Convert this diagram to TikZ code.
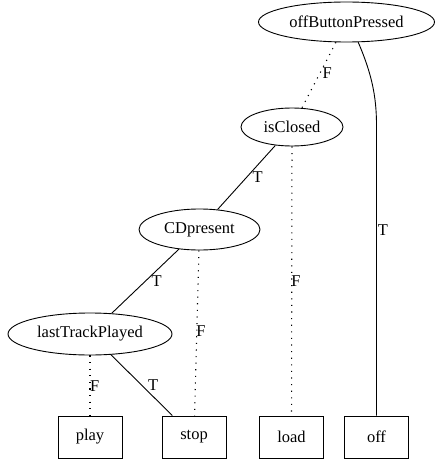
\documentclass[tikz,border=0pt]{standalone}
\usepackage{fontspec}
\setmainfont{Liberation Serif}
\usetikzlibrary{shapes.geometric}
\begin{document}
\begin{tikzpicture}[x=1pt,y=-1pt,
  every node/.style={font=\fontsize{16.5}{18}\selectfont},
  dec/.style={draw, ellipse, line width=0.9pt, inner sep=0pt},
  leaf/.style={draw, rectangle, line width=0.9pt, minimum width=64pt, minimum height=42pt, inner sep=0pt},
  tedge/.style={draw, line width=0.9pt},
  fedge/.style={draw, line width=1.1pt, dash pattern=on 1.1pt off 5.5pt},
  lbl/.style={inner sep=0pt, anchor=west}]
\useasboundingbox (0,0) rectangle (435,465);
\node[dec, minimum width=176pt, minimum height=40pt] (obp) at (346.5,22) {offButtonPressed};
\node[dec, minimum width=102pt, minimum height=38pt] (isc) at (292,127) {isClosed};
\node[dec, minimum width=121pt, minimum height=41pt] (cdp) at (199.5,229.5) {CDpresent};
\node[dec, minimum width=164pt, minimum height=42pt] (ltp) at (90,334) {lastTrackPlayed};
\node[leaf] (play) at (90,437) {play};
\node[leaf] (stop) at (194,437) {stop};
\node[leaf] (load) at (291.5,437) {load};
\node[leaf] (off) at (376.5,437) {off};
\draw[fedge] (obp) -- node[lbl, pos=0.47, xshift=2pt] {F} (isc);
\draw[tedge] (obp.300) .. controls (371,72) and (376.5,95) .. (376.5,125)
  -- node[lbl, pos=0.36, xshift=1pt] {T} (off.north);
\draw[tedge] (isc) -- node[lbl, pos=0.49, xshift=5pt] {T} (cdp);
\draw[fedge] (isc) -- node[lbl, pos=0.5, xshift=-1pt] {F} (load);
\draw[tedge] (cdp) -- node[lbl, pos=0.5, xshift=6pt] {T} (ltp);
\draw[fedge] (cdp) -- node[lbl, pos=0.49, xshift=-1pt] {F} (stop);
\draw[fedge] (ltp) -- node[lbl, pos=0.51, xshift=-0.5pt] {F} (play);
\draw[tedge] (ltp) -- node[lbl, pos=0.5, xshift=6pt] {T} (stop);
\end{tikzpicture}
\end{document}
